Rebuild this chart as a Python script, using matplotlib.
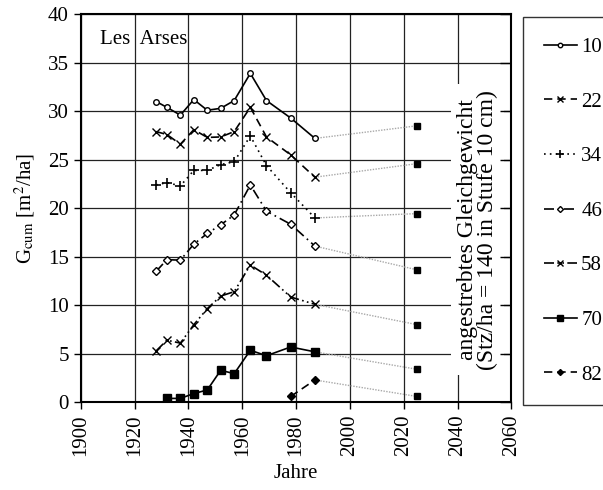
import matplotlib.pyplot as plt

plt.rcParams["font.family"] = ["Liberation Serif", "DejaVu Serif"]
plt.rcParams["mathtext.fontset"] = "stix"

# Survey years and cumulative basal area per diameter class
years = [1928, 1932, 1937, 1942, 1947, 1952, 1957, 1963, 1969, 1978, 1987]
g10 = [31.0, 30.4, 29.6, 31.2, 30.1, 30.3, 31.1, 33.9, 31.1, 29.3, 27.2]
g22 = [27.9, 27.6, 26.6, 28.1, 27.3, 27.35, 27.9, 30.4, 27.35, 25.5, 23.2]
g34 = [22.4, 22.65, 22.3, 23.9, 23.9, 24.5, 24.8, 27.45, 24.4, 21.6, 19.0]
g46 = [13.5, 14.7, 14.65, 16.3, 17.4, 18.3, 19.3, 22.4, 19.7, 18.35, 16.1]
g58 = [5.3, 6.4, 6.1, 8.0, 9.65, 10.95, 11.4, 14.15, 13.1, 10.85, 10.1]
years70 = years[1:]
g70 = [0.4, 0.4, 0.9, 1.27, 3.3, 2.95, 5.36, 4.8, 5.7, 5.2]
years82 = [1978, 1987]
g82 = [0.6, 2.3]

# target equilibrium (140 stems/ha in class 10 cm)
target_year = 2025
target = [28.5, 24.6, 19.45, 13.65, 8.0, 3.4, 0.6]

labels = ["10", "22", "34", "46", "58", "70", "82"]

styles = [
    dict(ls="-", marker="o", ms=4, mfc="white", mew=1.0),
    dict(ls=(0, (5, 3)), marker="x", ms=6, mew=1.0),
    dict(ls=(0, (1, 2.5)), marker="+", ms=6.5, mew=1.2),
    dict(ls=(0, (6, 2.5, 1, 2.5)), marker="D", ms=3.8, mfc="white", mew=1.0),
    dict(ls=(0, (6, 2, 1, 2, 1, 2)), marker="x", ms=6, mew=1.0),
    dict(ls="-", marker="s", ms=5.5, mfc="black"),
    dict(ls=(0, (5, 3)), marker="D", ms=3.8, mfc="black"),
]

series = [(years, g10), (years, g22), (years, g34), (years, g46),
          (years, g58), (years70, g70), (years82, g82)]

fig = plt.figure(figsize=(6.03, 4.90), dpi=100)
ax = fig.add_axes([0.134, 0.179, 0.714, 0.792])

for (xs, ys), st, lab, tv in zip(series, styles, labels, target):
    ax.plot(xs, ys, color="black", lw=1.2, mec="black", label=lab, zorder=4, **st)
    # dotted link from last survey to target value
    ax.plot([xs[-1], target_year], [ys[-1], tv], color="#a8a8a8", lw=1.0,
            ls=(0, (1, 1)), zorder=3)

ax.plot([target_year] * len(target), target, ls="none", marker="s", ms=5,
        color="black", zorder=4)

ax.set_xlim(1900, 2060)
ax.set_ylim(0, 40)
ax.set_xticks(range(1900, 2061, 20))
ax.set_yticks(range(0, 41, 5))
ax.tick_params(axis="x", labelrotation=90, labelsize=15, length=5, width=1)
ax.tick_params(axis="y", labelsize=15, length=5, width=1)
ax.grid(True, color="#222222", lw=0.9)
for sp in ax.spines.values():
    sp.set_linewidth(1.5)

ax.set_xlabel("Jahre", fontsize=15, labelpad=6)
ax.set_ylabel(r"G$_{\rm cum}$ [m$^2$/ha]", fontsize=15, labelpad=8)

ax.text(1907, 37.4, "Les  Arses", fontsize=15, ha="left", va="center")

ax.text(2047.5, 17.8,
        "angestrebtes Gleichgewicht\n(Stz/ha = 140 in Stufe 10 cm)",
        rotation=90, fontsize=17, ha="center", va="center",
        linespacing=0.95, zorder=5,
        bbox=dict(facecolor="white", edgecolor="none", pad=4))

# inward ticks on the right spine
ax2 = ax.twinx()
ax2.set_ylim(0, 40)
ax2.set_yticks(range(0, 41, 5))
ax2.tick_params(axis="y", direction="in", length=8, width=1, labelright=False)
for sp in ax2.spines.values():
    sp.set_visible(False)

handles, labs = ax.get_legend_handles_labels()
leg = fig.legend(handles, labs, loc="upper left", bbox_to_anchor=(0.867, 0.966),
                 fontsize=15, frameon=True, fancybox=False, edgecolor="black",
                 handlelength=1.6, handletextpad=0.2, labelspacing=1.68,
                 borderpad=1.0, borderaxespad=0, markerscale=0.8)
leg.get_frame().set_linewidth(1.0)

fig.savefig("out.png", dpi=100)
